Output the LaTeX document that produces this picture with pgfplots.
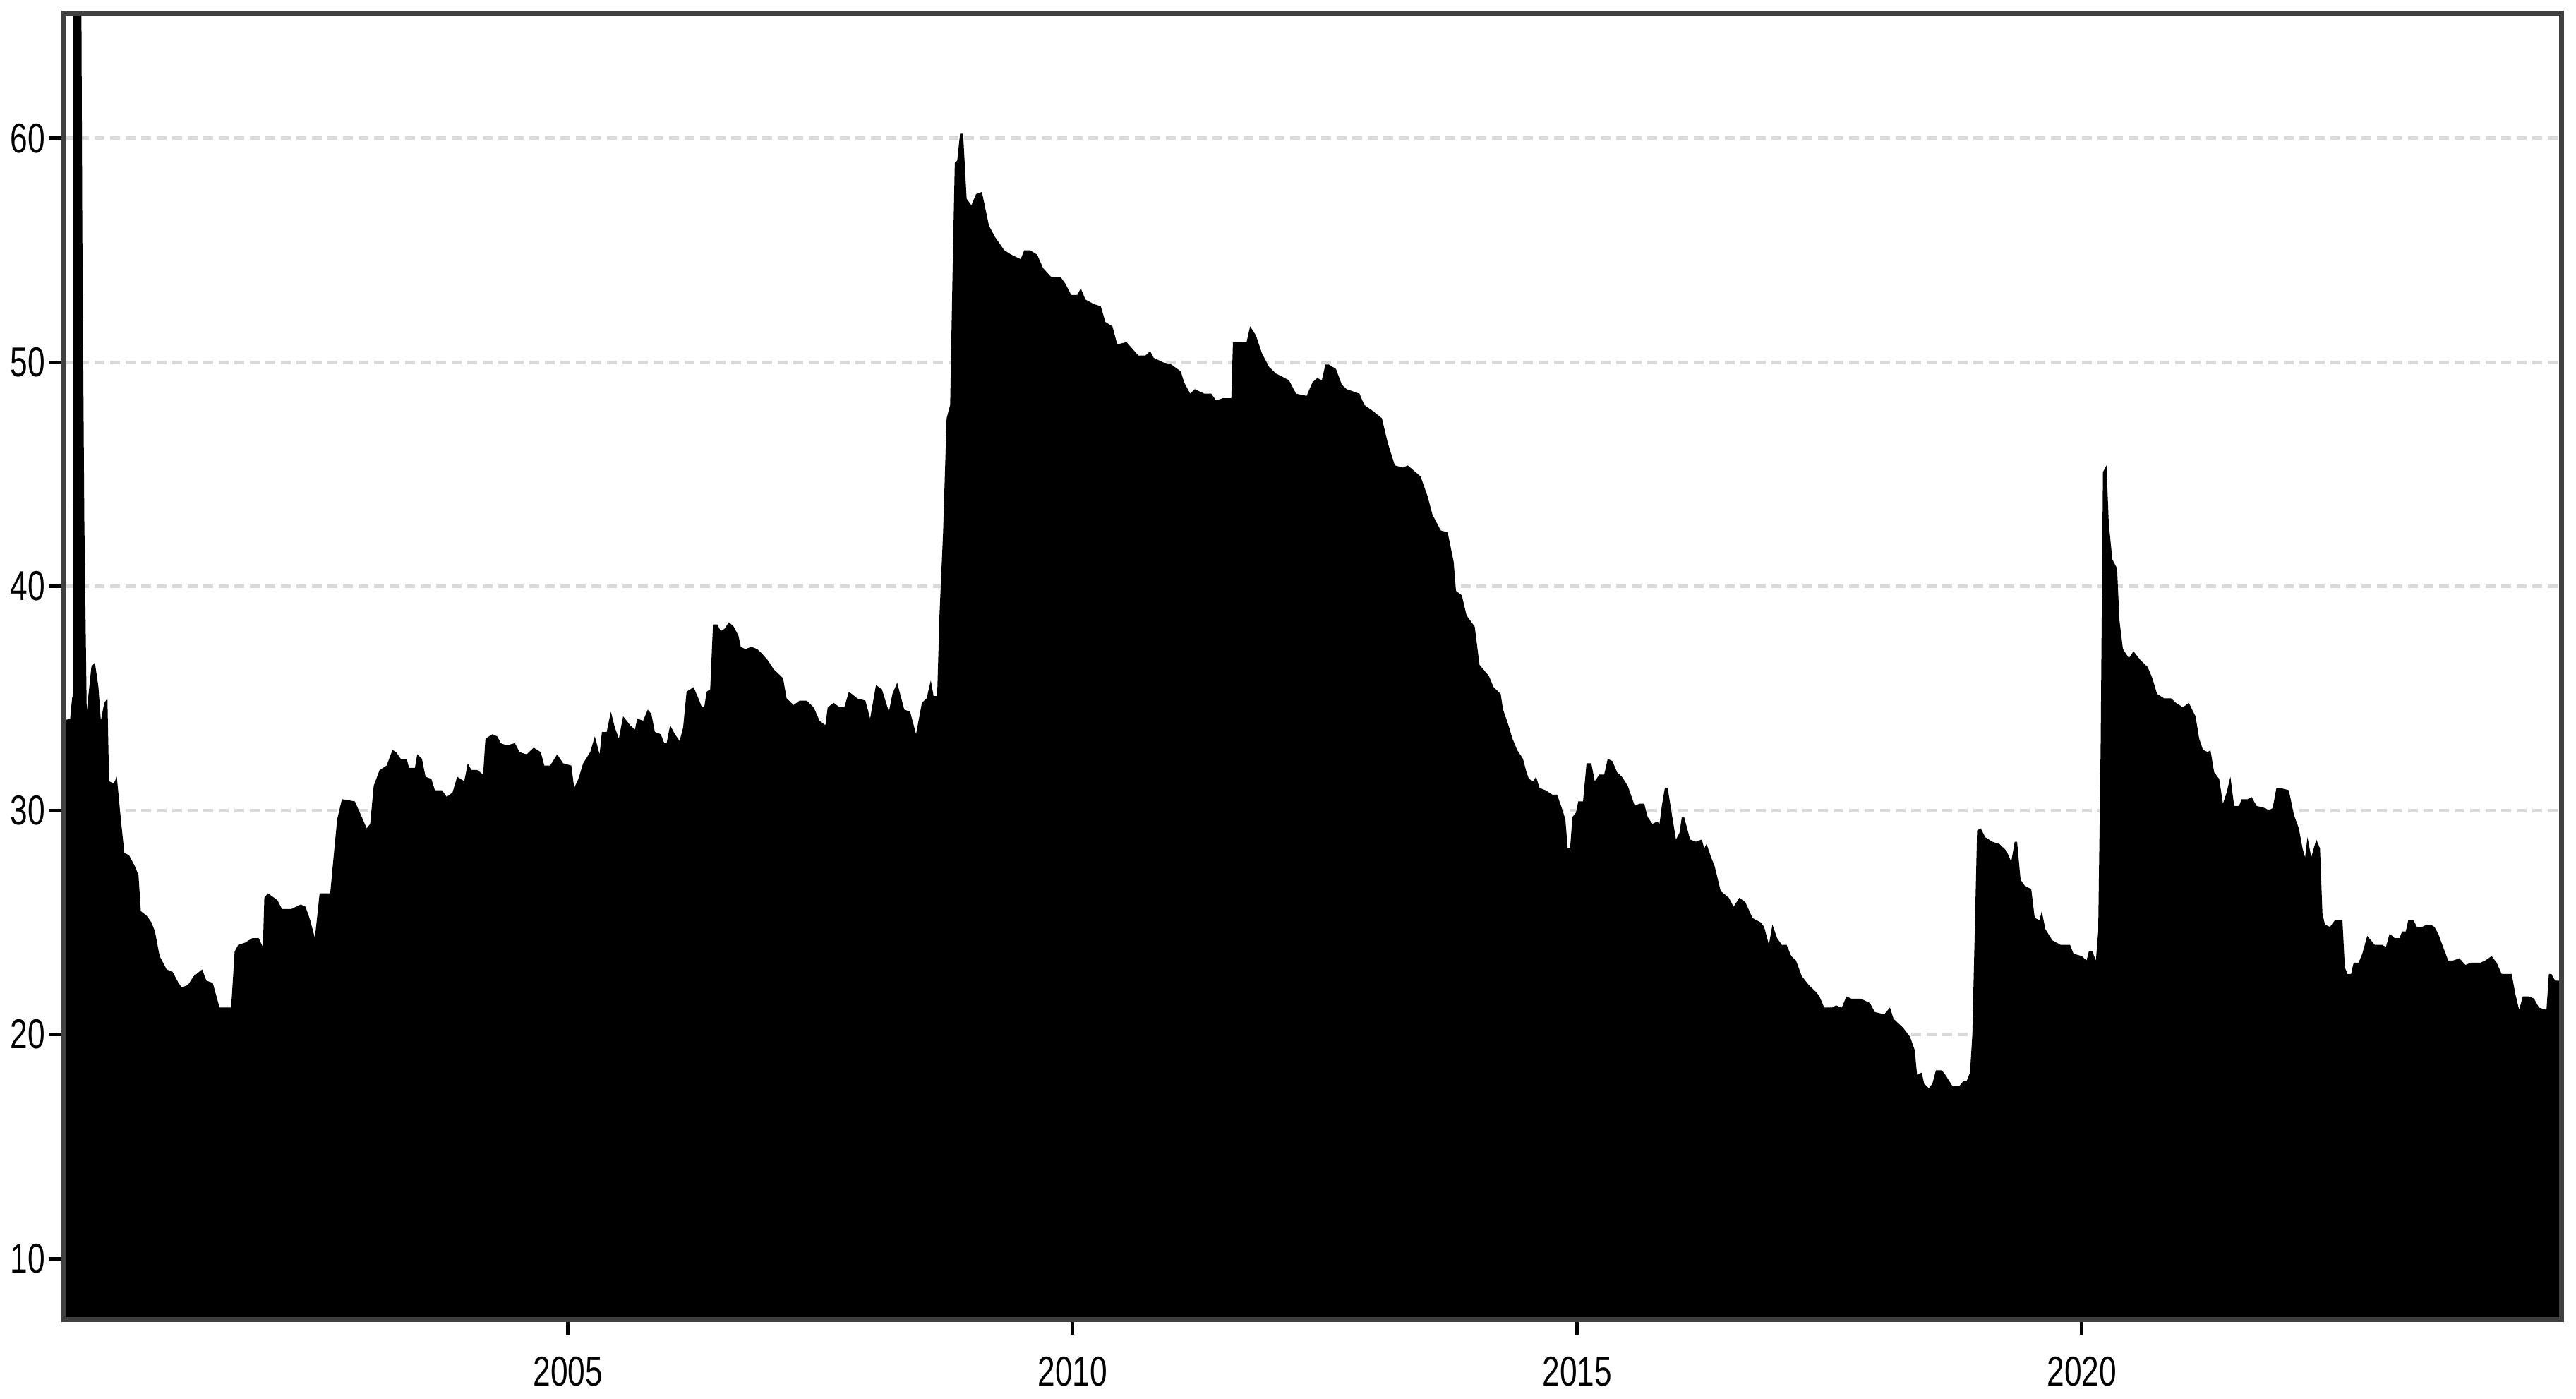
\documentclass[border=0pt]{standalone}
\usepackage{fontspec}
\setmainfont{Liberation Sans}[FakeStretch=0.75]
\usepackage{pgfplots}
\pgfplotsset{compat=1.18}
\usepackage{pgfplotstable}

\pgfplotstableread{
x y
2000.000 34.0
2000.066 34.1
2000.085 35.0
2000.095 35.2
2000.100 72.0
2000.172 72.0
2000.186 56.0
2000.206 43.0
2000.230 34.4
2000.276 36.4
2000.311 36.6
2000.346 35.5
2000.370 34.0
2000.404 34.8
2000.435 35.0
2000.451 31.3
2000.498 31.2
2000.528 31.5
2000.568 29.6
2000.603 28.1
2000.649 28.0
2000.708 27.5
2000.743 27.1
2000.766 25.5
2000.824 25.3
2000.871 25.0
2000.906 24.6
2000.952 23.5
2001.022 22.9
2001.080 22.8
2001.139 22.3
2001.171 22.1
2001.232 22.2
2001.290 22.6
2001.374 22.9
2001.416 22.4
2001.479 22.3
2001.540 21.3
2001.549 21.2
2001.661 21.2
2001.696 23.7
2001.731 24.0
2001.801 24.1
2001.871 24.3
2001.934 24.3
2001.976 23.9
2001.990 26.1
2002.025 26.3
2002.118 26.0
2002.165 25.6
2002.258 25.6
2002.351 25.8
2002.398 25.7
2002.444 25.1
2002.491 24.3
2002.538 26.3
2002.643 26.3
2002.678 28.0
2002.712 29.6
2002.759 30.5
2002.887 30.4
2002.946 29.8
2003.004 29.2
2003.039 29.4
2003.074 31.1
2003.132 31.8
2003.202 32.0
2003.260 32.7
2003.295 32.6
2003.342 32.3
2003.400 32.3
2003.424 31.9
2003.482 31.9
2003.505 32.5
2003.552 32.3
2003.587 31.5
2003.645 31.4
2003.680 30.9
2003.750 30.9
2003.797 30.6
2003.855 30.8
2003.901 31.5
2003.971 31.3
2004.006 32.1
2004.041 31.8
2004.100 31.8
2004.158 31.6
2004.181 33.2
2004.251 33.4
2004.298 33.3
2004.333 33.0
2004.391 32.9
2004.473 33.0
2004.519 32.6
2004.589 32.5
2004.659 32.8
2004.729 32.6
2004.764 32.0
2004.822 32.0
2004.892 32.5
2004.951 32.1
2005.032 32.0
2005.060 31.0
2005.102 31.4
2005.149 32.1
2005.219 32.6
2005.265 33.3
2005.312 32.5
2005.335 33.5
2005.382 33.5
2005.424 34.4
2005.463 33.7
2005.503 33.2
2005.545 34.2
2005.615 33.8
2005.662 33.6
2005.685 34.1
2005.743 34.0
2005.790 34.5
2005.825 34.3
2005.860 33.5
2005.918 33.4
2005.953 33.0
2005.976 33.0
2006.011 33.8
2006.058 33.4
2006.105 33.1
2006.140 33.7
2006.174 35.3
2006.244 35.5
2006.291 35.0
2006.326 34.6
2006.349 34.6
2006.373 35.3
2006.408 35.4
2006.436 38.3
2006.478 38.3
2006.513 38.0
2006.548 38.1
2006.594 38.4
2006.641 38.2
2006.688 37.8
2006.711 37.3
2006.757 37.2
2006.816 37.3
2006.874 37.2
2006.921 37.0
2006.979 36.7
2007.037 36.3
2007.084 36.1
2007.130 35.9
2007.165 35.0
2007.235 34.7
2007.294 34.9
2007.364 34.9
2007.433 34.6
2007.492 34.0
2007.550 33.8
2007.573 34.6
2007.632 34.8
2007.690 34.6
2007.737 34.6
2007.783 35.3
2007.865 35.0
2007.946 34.9
2007.993 34.1
2008.051 35.6
2008.110 35.4
2008.179 34.4
2008.214 35.2
2008.261 35.7
2008.296 35.1
2008.331 34.5
2008.389 34.4
2008.448 33.4
2008.506 34.8
2008.553 35.0
2008.594 35.8
2008.622 35.1
2008.657 35.1
2008.681 38.8
2008.716 42.4
2008.751 47.5
2008.786 48.1
2008.809 53.8
2008.832 58.9
2008.856 59.0
2008.884 60.2
2008.914 60.2
2008.949 57.3
2008.996 57.0
2009.042 57.5
2009.100 57.6
2009.170 56.1
2009.229 55.6
2009.322 55.0
2009.392 54.8
2009.485 54.6
2009.520 55.0
2009.578 55.0
2009.648 54.8
2009.707 54.2
2009.788 53.8
2009.881 53.8
2009.928 53.5
2009.986 53.0
2010.045 53.0
2010.080 53.3
2010.126 52.8
2010.208 52.6
2010.278 52.5
2010.324 51.8
2010.394 51.6
2010.441 50.8
2010.534 50.9
2010.592 50.6
2010.651 50.3
2010.721 50.3
2010.767 50.5
2010.802 50.2
2010.895 50.0
2010.977 49.9
2011.070 49.6
2011.105 49.1
2011.164 48.6
2011.210 48.8
2011.303 48.6
2011.373 48.6
2011.420 48.3
2011.490 48.4
2011.572 48.4
2011.588 50.9
2011.653 50.9
2011.723 50.9
2011.758 51.6
2011.816 51.2
2011.875 50.4
2011.945 49.8
2012.014 49.5
2012.143 49.2
2012.213 48.6
2012.318 48.5
2012.376 49.1
2012.423 49.3
2012.469 49.2
2012.504 49.9
2012.539 49.9
2012.609 49.7
2012.667 49.0
2012.714 48.8
2012.842 48.6
2012.889 48.1
2012.982 47.8
2013.064 47.5
2013.122 46.4
2013.192 45.4
2013.273 45.3
2013.320 45.4
2013.448 44.9
2013.518 44.0
2013.565 43.2
2013.646 42.5
2013.716 42.4
2013.775 41.1
2013.798 39.8
2013.856 39.6
2013.903 38.7
2013.984 38.2
2014.031 36.5
2014.124 36.0
2014.171 35.5
2014.241 35.2
2014.264 34.5
2014.311 33.9
2014.358 33.2
2014.404 32.7
2014.462 32.3
2014.497 31.7
2014.521 31.4
2014.567 31.3
2014.591 31.5
2014.626 31.0
2014.684 30.9
2014.754 30.7
2014.800 30.7
2014.847 30.1
2014.882 29.6
2014.905 28.3
2014.929 28.3
2014.952 29.7
2014.987 29.9
2015.010 30.4
2015.057 30.4
2015.092 32.1
2015.139 32.1
2015.173 31.3
2015.220 31.6
2015.267 31.6
2015.302 32.3
2015.348 32.2
2015.395 31.7
2015.442 31.5
2015.500 31.1
2015.570 30.2
2015.616 30.3
2015.663 30.3
2015.698 29.7
2015.745 29.4
2015.791 29.5
2015.815 29.4
2015.838 30.2
2015.868 31.0
2015.896 31.0
2015.931 30.0
2015.978 28.7
2016.013 29.0
2016.036 29.7
2016.059 29.7
2016.118 28.7
2016.176 28.6
2016.234 28.7
2016.258 28.3
2016.281 28.5
2016.327 27.9
2016.362 27.5
2016.421 26.4
2016.502 26.1
2016.549 25.7
2016.607 26.1
2016.666 25.9
2016.736 25.2
2016.817 25.0
2016.852 24.8
2016.899 24.0
2016.934 24.9
2016.980 24.3
2017.027 24.0
2017.074 24.0
2017.120 23.5
2017.167 23.3
2017.225 22.6
2017.295 22.2
2017.365 21.9
2017.400 21.7
2017.447 21.2
2017.528 21.2
2017.563 21.3
2017.621 21.2
2017.668 21.7
2017.715 21.6
2017.808 21.6
2017.901 21.4
2017.948 21.0
2018.041 20.9
2018.099 21.2
2018.134 20.7
2018.228 20.3
2018.297 19.9
2018.344 19.3
2018.367 18.2
2018.414 18.3
2018.437 17.8
2018.484 17.6
2018.519 17.8
2018.554 18.4
2018.612 18.4
2018.647 18.2
2018.717 17.7
2018.787 17.7
2018.822 17.9
2018.857 17.9
2018.892 18.3
2018.915 20.0
2018.939 24.6
2018.962 29.1
2018.997 29.2
2019.043 28.8
2019.113 28.6
2019.183 28.5
2019.253 28.2
2019.300 27.7
2019.335 28.6
2019.358 28.6
2019.393 26.9
2019.440 26.6
2019.498 26.5
2019.533 25.2
2019.580 25.1
2019.603 25.5
2019.638 24.7
2019.708 24.2
2019.789 24.0
2019.883 24.0
2019.918 23.6
2019.999 23.5
2020.046 23.3
2020.069 23.7
2020.104 23.7
2020.139 23.3
2020.162 24.6
2020.186 32.7
2020.209 45.1
2020.244 45.4
2020.267 42.8
2020.302 41.2
2020.349 40.8
2020.372 38.5
2020.407 37.2
2020.466 36.8
2020.512 37.1
2020.582 36.7
2020.652 36.4
2020.699 35.9
2020.745 35.2
2020.815 35.0
2020.885 35.0
2020.932 34.8
2021.002 34.6
2021.060 34.8
2021.126 34.2
2021.163 33.2
2021.200 32.7
2021.250 32.6
2021.274 32.7
2021.311 31.7
2021.361 31.4
2021.398 30.3
2021.435 30.8
2021.472 31.5
2021.509 30.2
2021.558 30.2
2021.583 30.5
2021.644 30.5
2021.681 30.6
2021.731 30.2
2021.817 30.1
2021.854 30.0
2021.891 30.1
2021.928 31.0
2021.965 31.0
2022.051 30.9
2022.101 29.8
2022.150 29.2
2022.187 28.3
2022.212 27.9
2022.236 28.8
2022.273 27.9
2022.323 28.7
2022.360 28.3
2022.384 25.4
2022.409 24.9
2022.458 24.8
2022.508 25.1
2022.582 25.1
2022.606 23.0
2022.631 22.7
2022.668 22.7
2022.693 23.2
2022.742 23.2
2022.779 23.6
2022.828 24.4
2022.865 24.2
2022.902 24.0
2022.976 24.0
2023.013 23.9
2023.050 24.5
2023.099 24.3
2023.149 24.3
2023.173 24.6
2023.210 24.6
2023.235 25.1
2023.284 25.1
2023.321 24.8
2023.371 24.8
2023.420 24.9
2023.457 24.9
2023.494 24.8
2023.531 24.5
2023.580 23.9
2023.630 23.3
2023.679 23.3
2023.741 23.4
2023.802 23.1
2023.852 23.2
2023.950 23.2
2023.999 23.3
2024.061 23.5
2024.111 23.2
2024.160 22.7
2024.259 22.7
2024.296 21.8
2024.333 21.1
2024.370 21.7
2024.431 21.7
2024.480 21.6
2024.530 21.2
2024.604 21.1
2024.628 22.7
2024.653 22.7
2024.690 22.4
2024.727 22.4
2024.750 22.4
}\series

\begin{document}
\begin{tikzpicture}
\begin{axis}[scale only axis, width=353.9bp, height=185.2bp,
    xmin=2000, xmax=2024.75, ymin=7.26, ymax=65.6,
    clip mode=individual,
    axis line style={draw=black!75, line width=0.7bp},
    tick pos=left, tick align=outside, major tick length=2.1bp,
    tick style={black, line width=0.5bp},
    xtick={2005,2010,2015,2020}, xticklabels={2005,2010,2015,2020},
    ytick={10,20,30,40,50,60}, yticklabels={10,20,30,40,50,60},
    tick label style={font=\fontsize{5.9bp}{7bp}\selectfont, inner sep=0pt},
    yticklabel style={xshift=-0.3bp},
    xticklabel style={yshift=-2.9bp},
    ymajorgrids,
    major grid style={gray!30, line width=0.5bp, dash pattern=on 1.4bp off 0.8bp}]
\addplot[fill=black, draw=none] table[x=x, y=y] {\series} \closedcycle;
% Rahmen nochmals ueber die Flaeche legen
\draw[black!75, line width=0.7bp] (rel axis cs:0,0) rectangle (rel axis cs:1,1);
\end{axis}
\pgfresetboundingbox
\path ([shift={(-9bp,-11.2bp)}]current axis.south west)
    rectangle ([shift={(2.1bp,1.8bp)}]current axis.north east);
\end{tikzpicture}
\end{document}
